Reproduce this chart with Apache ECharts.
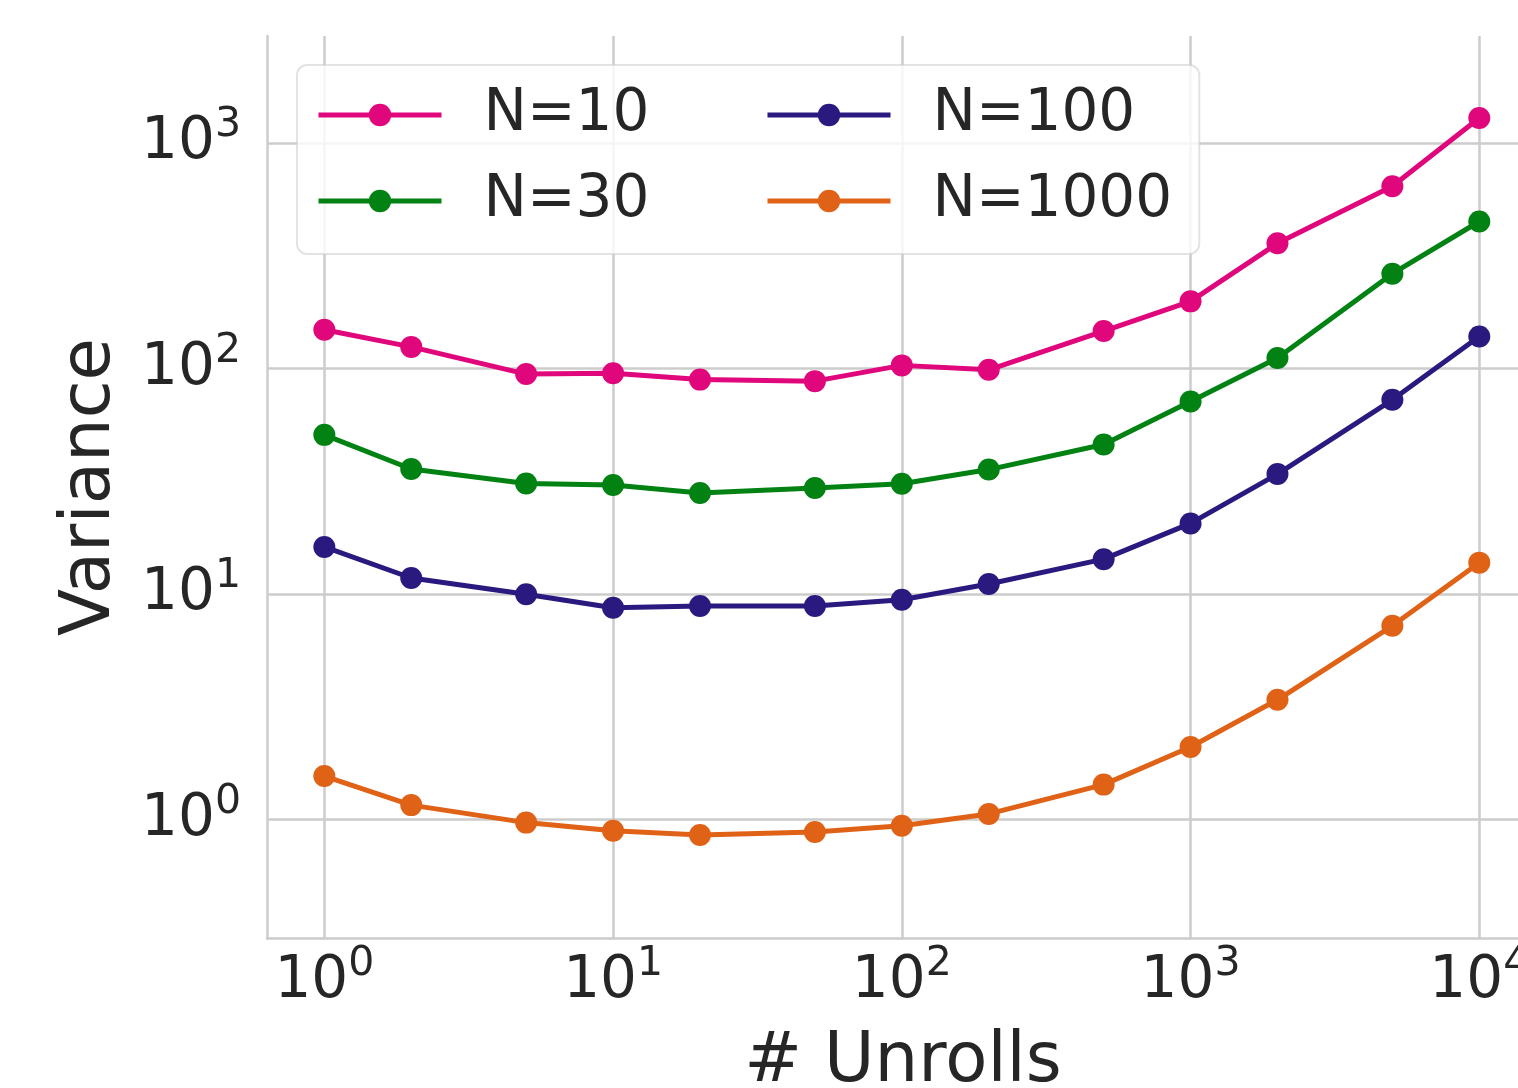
<!DOCTYPE html>
<html>
<head>
<meta charset="utf-8">
<script src="https://cdn.jsdelivr.net/npm/echarts@6/dist/echarts.min.js"></script>
<style>
  html, body { margin: 0; padding: 0; background: #fff; }
  #chart { width: 1518px; height: 1088px; }
</style>
</head>
<body>
<div id="chart"></div>
<script>
// x values (# unrolls)
const unrolls = [1, 2, 5, 10, 20, 50, 100, 200, 500, 1000, 2000, 5000, 10000]

// variance per series
const n10 = [149, 125, 94.7, 95.5, 89.5, 88.1, 103.5, 98.9, 147, 199, 360, 645, 1295]
const n30 = [50.9, 35.9, 31.0, 30.5, 28.1, 29.6, 30.9, 35.7, 46.1, 71.5, 111.5, 264, 450]
const n100 = [16.2, 11.8, 10.0, 8.71, 8.87, 8.87, 9.44, 11.1, 14.3, 20.6, 34.1, 72.8, 139]
const n1000 = [1.56, 1.16, 0.97, 0.893, 0.855, 0.881, 0.94, 1.06, 1.43, 2.10, 3.40, 7.24, 13.8]

const seriesNames = ['N=10', 'N=30', 'N=100', 'N=1000']
const seriesColors = ['#e0067b', '#018212', '#2a1a80', '#e06216']

const textColor = '#262626'
const gridColor = '#cccccc'
const font = 'DejaVu Sans'

const chart = echarts.init(document.getElementById('chart'))

// 10^n labels, only on powers of ten
const powLabel = (value) => {
  const p = Math.log10(value)
  const n = Math.round(p)
  if (Math.abs(p - n) > 1e-6) return ''
  return '{b|10}{s|' + n + '}'
}

const labelRich = {
  b: { fontSize: 58, lineHeight: 58, fontFamily: font, color: textColor, verticalAlign: 'bottom' },
  s: { fontSize: 41, lineHeight: 41, fontFamily: font, color: textColor, verticalAlign: 'bottom', padding: [0, 0, 26, 0] }
}

const makeSeries = (name, values, color) => ({
  name: name,
  type: 'line',
  data: unrolls.map((x, i) => [x, values[i]]),
  symbol: 'circle',
  symbolSize: 22,
  lineStyle: { width: 5, color: color },
  itemStyle: { color: color },
  emphasis: { disabled: true }
})

const legendBase = {
  orient: 'vertical',
  itemWidth: 123,
  itemHeight: 28,
  itemGap: 22,
  lineStyle: { width: 5 },
  textStyle: {
    fontSize: 58,
    lineHeight: 60,
    fontFamily: font,
    color: textColor,
    padding: [4, 0, 0, 37]
  }
}

const option = {
  backgroundColor: '#ffffff',
  animation: false,
  grid: {
    left: 267,
    top: 36,
    width: 1272,
    bottom: 150,
    outerBoundsMode: 'none'
  },
  legend: [
    Object.assign({}, legendBase, {
      data: ['N=10', 'N=30'],
      left: 297,
      top: 65,
      padding: [18, 550, 21, 19],
      backgroundColor: 'rgba(255,255,255,0.8)',
      borderColor: 'rgba(204,204,204,0.55)',
      borderWidth: 2,
      borderRadius: 10,
      z: 10
    }),
    Object.assign({}, legendBase, {
      data: ['N=100', 'N=1000'],
      left: 765,
      top: 65,
      padding: [18, 0, 21, 0],
      z: 11
    })
  ],
  xAxis: {
    type: 'log',
    logBase: 10,
    min: 0.633,
    max: 16100,
    name: '# Unrolls',
    nameLocation: 'middle',
    nameGap: 91,
    nameTextStyle: { fontSize: 69, fontFamily: font, color: textColor },
    axisLine: { show: true, lineStyle: { color: gridColor, width: 2.5 } },
    axisTick: { show: false },
    axisLabel: {
      formatter: powLabel,
      rich: labelRich,
      margin: 15,
      showMinLabel: false,
      showMaxLabel: false
    },
    splitLine: {
      show: true,
      showMinLine: false,
      showMaxLine: false,
      lineStyle: { color: gridColor, width: 2.5 }
    }
  },
  yAxis: {
    type: 'log',
    logBase: 10,
    min: 0.2985,
    max: 2992,
    name: 'Variance',
    nameLocation: 'middle',
    nameRotate: 90,
    nameGap: 141,
    nameTextStyle: { fontSize: 69, fontFamily: font, color: textColor },
    axisLine: { show: true, lineStyle: { color: gridColor, width: 2.5 } },
    axisTick: { show: false },
    axisLabel: {
      formatter: powLabel,
      rich: labelRich,
      margin: 26,
      showMinLabel: false,
      showMaxLabel: false
    },
    splitLine: {
      show: true,
      showMinLine: false,
      showMaxLine: false,
      lineStyle: { color: gridColor, width: 2.5 }
    }
  },
  series: [
    makeSeries(seriesNames[0], n10, seriesColors[0]),
    makeSeries(seriesNames[1], n30, seriesColors[1]),
    makeSeries(seriesNames[2], n100, seriesColors[2]),
    makeSeries(seriesNames[3], n1000, seriesColors[3])
  ]
}

chart.setOption(option)
</script>
</body>
</html>
